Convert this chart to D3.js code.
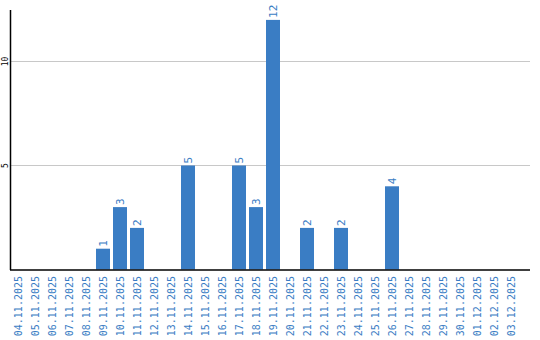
<!DOCTYPE html>
<html>
<head>
<meta charset="utf-8">
<script src="https://cdn.jsdelivr.net/npm/d3@7"></script>
<style>
  body { margin: 0; background: #fff; }
  text { font-family: "DejaVu Sans Mono", monospace; }
</style>
</head>
<body>
<svg id="chart" width="540" height="340"></svg>
<script>
// dates on x axis
const days = ["04.11.2025","05.11.2025","06.11.2025","07.11.2025","08.11.2025","09.11.2025",
  "10.11.2025","11.11.2025","12.11.2025","13.11.2025","14.11.2025","15.11.2025","16.11.2025",
  "17.11.2025","18.11.2025","19.11.2025","20.11.2025","21.11.2025","22.11.2025","23.11.2025",
  "24.11.2025","25.11.2025","26.11.2025","27.11.2025","28.11.2025","29.11.2025","30.11.2025",
  "01.12.2025","02.12.2025","03.12.2025"];
const counts = [0,0,0,0,0,1,3,2,0,0,5,0,0,5,3,12,0,2,0,2,0,0,4,0,0,0,0,0,0,0];
const yTicks = [5, 10];

const blue = "#3a7dc4";
const svg = d3.select("#chart");

const x = d3.scaleBand(days, [10, 520]).paddingInner(0.176).paddingOuter(0.088);
const y = d3.scaleLinear([0, 12], [269.5, 19.9]);

// grid
svg.append("g").selectAll("line")
  .data(yTicks).enter().append("line")
  .attr("x1", 10).attr("x2", 530)
  .attr("y1", d => Math.round(y(d)) + 0.5).attr("y2", d => Math.round(y(d)) + 0.5)
  .attr("stroke", "#c8c8c8").attr("stroke-width", 1);

// y tick labels, rotated
svg.append("g").selectAll("text")
  .data(yTicks).enter().append("text")
  .attr("transform", d => `translate(8,${y(d)}) rotate(-90)`)
  .attr("text-anchor", "middle")
  .attr("font-size", "8px")
  .attr("fill", "#000")
  .text(d => d);

// bars
const data = days.map((d, i) => ({ day: d, v: counts[i] }));
svg.append("g").selectAll("rect")
  .data(data.filter(d => d.v > 0)).enter().append("rect")
  .attr("x", d => Math.round(x(d.day)))
  .attr("y", d => y(d.v))
  .attr("width", Math.round(x.bandwidth()))
  .attr("height", d => y(0) - y(d.v))
  .attr("fill", blue);

// value labels
svg.append("g").selectAll("text")
  .data(data.filter(d => d.v > 0)).enter().append("text")
  .attr("transform", d => `translate(${x(d.day) + x.bandwidth() / 2 + 3.5},${y(d.v) - 2}) rotate(-90)`)
  .attr("font-size", "11px")
  .attr("fill", blue)
  .text(d => d.v);

// axes lines
svg.append("line")
  .attr("x1", 10.5).attr("x2", 10.5).attr("y1", 10).attr("y2", 270)
  .attr("stroke", "#000").attr("stroke-width", 1.5);
svg.append("line")
  .attr("x1", 10).attr("x2", 530).attr("y1", 270).attr("y2", 270)
  .attr("stroke", "#000").attr("stroke-width", 1.5);

// x labels
svg.append("g").selectAll("text")
  .data(days).enter().append("text")
  .attr("transform", d => `translate(${x(d) + x.bandwidth() / 2 + 3},276) rotate(-90)`)
  .attr("text-anchor", "end")
  .attr("font-size", "10px")
  .attr("fill", blue)
  .text(d => d);
</script>
</body>
</html>
